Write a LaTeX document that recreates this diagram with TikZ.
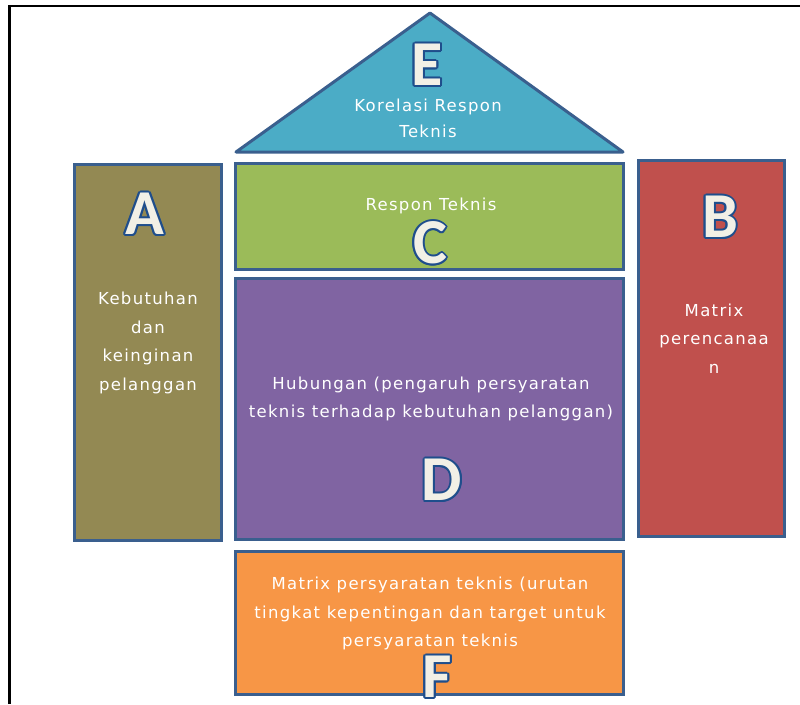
\documentclass[tikz,border=0pt]{standalone}
\usepackage{fontspec}
\setmainfont{DejaVu Sans}
\newfontfamily\captionfont{DejaVu Sans}[LetterSpace=8]
\newfontfamily\letterfont{Carlito}
\definecolor{qborder}{HTML}{3A5F8E}
\definecolor{qolive}{HTML}{938953}
\definecolor{qred}{HTML}{C0504D}
\definecolor{qgreen}{HTML}{9BBB59}
\definecolor{qpurple}{HTML}{8064A2}
\definecolor{qorange}{HTML}{F79646}
\definecolor{qblue}{HTML}{4BACC6}
\definecolor{qletterline}{HTML}{1F4E8C}
\definecolor{qletterface}{HTML}{F2F0E6}
\begin{document}
\begin{tikzpicture}[x=1pt,y=-1pt,
  box/.style={draw=qborder,line width=3pt,inner sep=0pt},
  caption/.style={text=white,font=\captionfont\fontsize{16.5}{28.5}\selectfont,align=center,inner sep=0pt},
  lettershade/.style={text=qletterline,font=\letterfont\bfseries\fontsize{64}{64}\selectfont,inner sep=0pt},
  letterface/.style={text=qletterface,font=\letterfont\bfseries\fontsize{64}{64}\selectfont,inner sep=0pt}]
  \useasboundingbox (0,0) rectangle (800,704);
  \draw[line width=2.5pt] (9.5,704) -- (9.5,6) -- (800,6);
  % house
  \draw[fill=qblue,draw=qborder,line width=3pt,line join=round] (236,152) -- (430,13) -- (623,152) -- cycle;
  \node[box,fill=qolive,minimum width=147pt,minimum height=376pt] (needs) at (148,352.5) {};
  \node[box,fill=qred,minimum width=146pt,minimum height=376pt] (plan) at (711.5,348.5) {};
  \node[box,fill=qgreen,minimum width=388pt,minimum height=106pt] (resp) at (429.5,216.5) {};
  \node[box,fill=qpurple,minimum width=388pt,minimum height=261pt] (rel) at (429.5,409) {};
  \node[box,fill=qorange,minimum width=388pt,minimum height=143pt] (target) at (429.5,623) {};
  % texts
  \node[caption,font=\captionfont\fontsize{16.5}{26}\selectfont] (corr-text) at (428,118) {Korelasi Respon\\Teknis};
  \node[caption] (resp-text) at (431,206) {Respon Teknis};
  \node[caption] (needs-text) at (148,343) {Kebutuhan\\dan\\keinginan\\pelanggan};
  \node[caption] (plan-text) at (714,338.5) {Matrix\\perencanaa\\n};
  \node[caption] (rel-text) at (431,399) {Hubungan (pengaruh persyaratan\\teknis terhadap kebutuhan pelanggan)};
  \node[caption] (target-text) at (430,613.5) {Matrix persyaratan teknis (urutan\\tingkat kepentingan dan target untuk\\persyaratan teknis};
  % letters
  \foreach \l/\p in {A/{145,214},B/{720,217},C/{430,243},D/{442,480},E/{427,65},F/{437,677}}{
    \foreach \a in {0,30,...,330}
      \node[lettershade,xshift={2*cos(\a)},yshift={2*sin(\a)}] (\l-shade-\a) at (\p) {\l};
    \node[letterface] (\l-letter) at (\p) {\l};
  }
\end{tikzpicture}
\end{document}
